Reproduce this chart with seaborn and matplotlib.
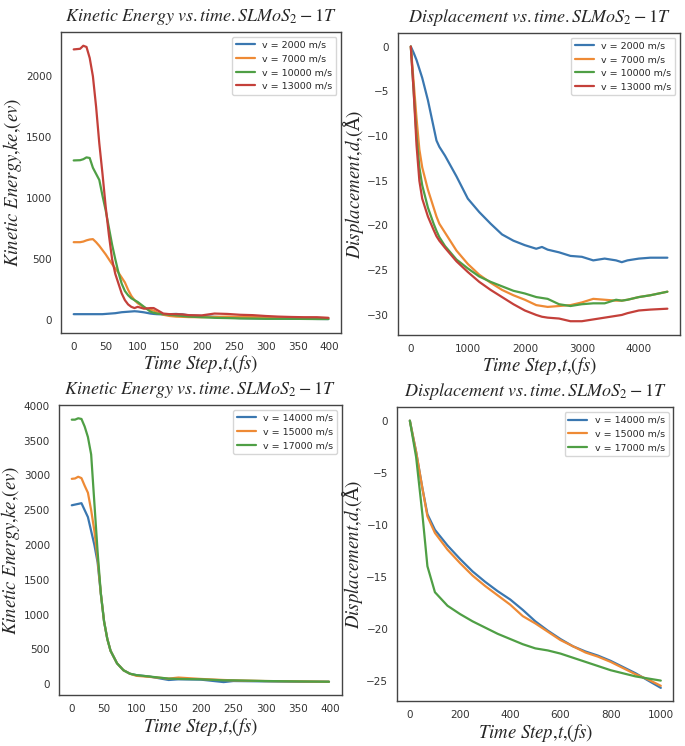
import pandas as pd
import matplotlib
matplotlib.use("Agg")
import matplotlib.pyplot as plt
import seaborn as sns

sns.set_style("white")
plt.rcParams['mathtext.fontset'] = 'stix'
plt.rcParams['font.family'] = ['DejaVu Sans']

# --- Panel 1: kinetic energy, low velocities ---
ke1_t = [0, 10, 15, 20, 25, 30, 35, 40, 45, 50, 55, 60, 65, 70, 75, 80, 85, 90, 95, 100,
         110, 120, 125, 130, 140, 150, 160, 170, 180, 200, 220, 240, 260, 280, 300,
         320, 340, 360, 380, 398]
ke1_2000 = [50, 50, 50, 50, 50, 50, 50, 50, 50, 52, 54, 56, 58, 62, 66, 68, 70, 72, 74, 72,
            65, 55, 52, 50, 48, 50, 52, 48, 40, 35, 28, 22, 18, 16, 15,
            14, 12, 12, 11, 10]
ke1_7000 = [640, 640, 645, 655, 662, 665, 640, 610, 575, 540, 500, 460, 425, 390, 350, 310, 250, 200, 165, 140,
            105, 85, 80, 65, 45, 35, 30, 28, 26, 25, 28, 30, 28, 26, 25,
            22, 20, 20, 19, 18]
ke1_10000 = [1310, 1312, 1320, 1335, 1330, 1250, 1200, 1150, 1020, 900, 760, 620, 500, 390, 300, 240, 205, 180, 165, 150,
             110, 70, 62, 55, 50, 45, 40, 35, 30, 25, 20, 18, 15, 14, 12,
             12, 12, 11, 10, 10]
ke1_13000 = [2220, 2225, 2250, 2240, 2150, 2000, 1750, 1450, 1200, 930, 700, 500, 380, 300, 220, 165, 130, 110, 100, 110,
             95, 100, 100, 85, 55, 50, 50, 48, 42, 40, 55, 52, 45, 42, 35,
             30, 27, 25, 25, 20]

# --- Panel 2: displacement, low velocities ---
d1_t = [0, 50, 100, 150, 200, 300, 400, 450, 500, 600, 800, 1000, 1200, 1400, 1600, 1800,
        2000, 2200, 2300, 2400, 2600, 2800, 3000, 3200, 3400, 3600, 3700, 3800,
        4000, 4200, 4500]
d1_2000 = [0, -0.7, -1.5, -2.5, -3.5, -6.0, -9.0, -10.5, -11.2, -12.2, -14.5, -17.0, -18.5, -19.8, -21.0, -21.7,
           -22.2, -22.6, -22.4, -22.7, -23.0, -23.4, -23.5, -23.9, -23.7, -23.9, -24.1, -23.9,
           -23.7, -23.6, -23.6]
d1_7000 = [0, -4.0, -8.0, -11.5, -13.5, -16.0, -18.0, -19.0, -19.8, -20.8, -22.8, -24.3, -25.5, -26.4, -27.2, -27.8,
           -28.3, -28.9, -29.0, -29.1, -29.0, -28.9, -28.6, -28.2, -28.3, -28.4, -28.4, -28.3,
           -28.0, -27.8, -27.4]
d1_10000 = [0, -5.0, -10.0, -13.5, -15.5, -18.0, -19.8, -20.6, -21.3, -22.3, -23.8, -24.8, -25.7, -26.3, -26.8, -27.3,
            -27.6, -28.0, -28.1, -28.2, -28.8, -29.0, -28.8, -28.7, -28.7, -28.3, -28.4, -28.3,
            -28.0, -27.8, -27.4]
d1_13000 = [0, -5.0, -11.0, -15.0, -17.0, -19.0, -20.5, -21.2, -21.7, -22.5, -24.0, -25.2, -26.3, -27.2, -28.0, -28.8,
            -29.5, -30.0, -30.2, -30.3, -30.4, -30.7, -30.7, -30.5, -30.3, -30.1, -30.0, -29.8,
            -29.5, -29.4, -29.3]

# --- Panel 3: kinetic energy, high velocities ---
ke2_t = [0, 5, 10, 15, 20, 25, 30, 35, 40, 45, 50, 55, 60, 70, 80, 90, 100, 120, 150,
         165, 200, 235, 250, 300, 350, 398]
ke2_14000 = [2570, 2580, 2590, 2600, 2500, 2400, 2200, 2000, 1750, 1300, 900, 650, 480, 300, 200, 150, 130, 110, 60,
             70, 65, 30, 45, 40, 35, 35]
ke2_15000 = [2950, 2955, 2980, 2960, 2850, 2750, 2500, 2200, 1800, 1300, 900, 650, 480, 300, 200, 150, 120, 105, 80,
             95, 75, 60, 55, 45, 40, 35]
ke2_17000 = [3800, 3800, 3820, 3810, 3700, 3550, 3300, 2600, 1900, 1300, 900, 650, 480, 300, 200, 150, 130, 110, 80,
             75, 70, 55, 55, 45, 40, 35]

# --- Panel 4: displacement, high velocities ---
d2_t = [0, 25, 50, 70, 100, 150, 200, 250, 300, 350, 400, 450, 500, 550, 600, 650,
        700, 750, 800, 850, 900, 950, 1000]
d2_14000 = [0, -3.0, -6.5, -9.0, -10.5, -12.0, -13.3, -14.5, -15.5, -16.4, -17.2, -18.2, -19.3, -20.2, -21.0, -21.7,
            -22.2, -22.6, -23.1, -23.7, -24.3, -25.0, -25.7]
d2_15000 = [0, -3.0, -6.5, -9.2, -10.8, -12.4, -13.7, -14.9, -15.9, -16.8, -17.7, -18.8, -19.5, -20.3, -21.1, -21.7,
            -22.3, -22.7, -23.2, -23.8, -24.4, -24.9, -25.5]
d2_17000 = [0, -3.5, -9.0, -14.0, -16.5, -17.8, -18.6, -19.3, -19.9, -20.5, -21.0, -21.5, -21.9, -22.1, -22.4, -22.8,
            -23.2, -23.6, -24.0, -24.3, -24.6, -24.8, -25.0]


def long_df(t, series):
    rows = []
    for name, vals in series.items():
        for x, y in zip(t, vals):
            rows.append({"t": x, "val": y, "v": name})
    return pd.DataFrame(rows)


ke_title = r"$Kinetic\ Energy\ vs.time.SLMoS_2-1T$"
d_title = r"$Displacement\ vs.time.SLMoS_2-1T$"
x_lab = r"$Time\ Step{,}t{,}(fs)$"
ke_lab = r"$Kinetic\ Energy{,}ke{,}(ev)$"
d_lab = "$Displacement{,}d{,}($Å$)$"

panels = [
    ([0.089, 0.554, 0.409, 0.403], ke1_t,
     {"v = 2000 m/s": ke1_2000, "v = 7000 m/s": ke1_7000,
      "v = 10000 m/s": ke1_10000, "v = 13000 m/s": ke1_13000},
     ke_title, ke_lab, [0, 500, 1000, 1500, 2000], [0, 50, 100, 150, 200, 250, 300, 350, 400]),
    ([0.581, 0.551, 0.412, 0.405], d1_t,
     {"v = 2000 m/s": d1_2000, "v = 7000 m/s": d1_7000,
      "v = 10000 m/s": d1_10000, "v = 13000 m/s": d1_13000},
     d_title, d_lab, [0, -5, -10, -15, -20, -25, -30], [0, 1000, 2000, 3000, 4000]),
    ([0.086, 0.068, 0.413, 0.389], ke2_t,
     {"v = 14000 m/s": ke2_14000, "v = 15000 m/s": ke2_15000, "v = 17000 m/s": ke2_17000},
     ke_title, ke_lab, [0, 500, 1000, 1500, 2000, 2500, 3000, 3500, 4000],
     [0, 50, 100, 150, 200, 250, 300, 350, 400]),
    ([0.580, 0.060, 0.403, 0.394], d2_t,
     {"v = 14000 m/s": d2_14000, "v = 15000 m/s": d2_15000, "v = 17000 m/s": d2_17000},
     d_title, d_lab, [0, -5, -10, -15, -20, -25], [0, 200, 400, 600, 800, 1000]),
]

colors = ["#3a77b0", "#ee8a35", "#4f9f45", "#c4403a"]

fig = plt.figure(figsize=(6.85, 7.46), dpi=100)
for rect, t, series, title, ylab, yticks, xticks in panels:
    ax = fig.add_axes(rect)
    df = long_df(t, series)
    sns.lineplot(data=df, x="t", y="val", hue="v", palette=colors[:len(series)],
                 linewidth=1.6, ax=ax)
    ax.set_title(title, fontsize=13, pad=8)
    ax.set_xlabel(x_lab, fontsize=13.5, labelpad=1)
    if ylab == d_lab:
        ax.set_ylabel(ylab, fontsize=13.5, labelpad=1, family=["DejaVu Serif"])
    else:
        ax.set_ylabel(ylab, fontsize=13.5, labelpad=1)
    ax.set_yticks(yticks)
    ax.set_xticks(xticks)
    ax.tick_params(labelsize=7.5, colors="#333333", length=3, width=0.7)
    for s in ax.spines.values():
        s.set_color("#444444")
        s.set_linewidth(1.0)
    leg = ax.legend(loc="upper right", fontsize=6.8, frameon=True, handlelength=2.0)
    leg.get_frame().set_edgecolor("#cccccc")

fig.savefig("out.png", dpi=100)
